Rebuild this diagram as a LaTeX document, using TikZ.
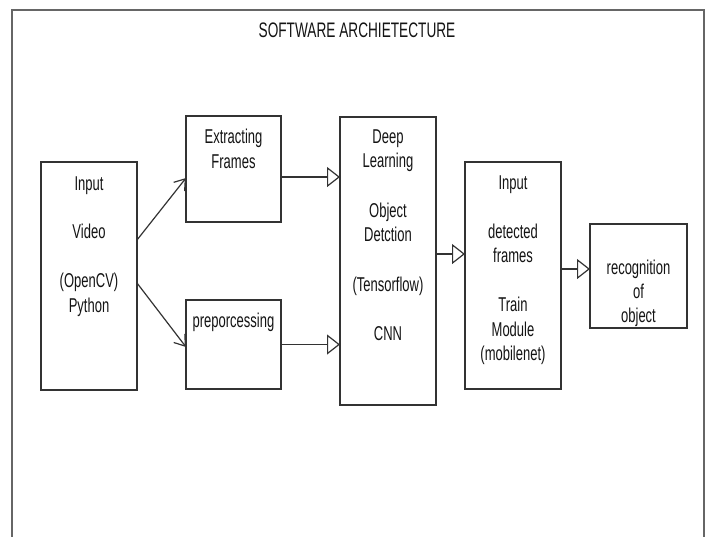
\documentclass[tikz,border=0pt]{standalone}
\usepackage{fontspec}
\setmainfont[FakeStretch=0.65]{Liberation Sans}
\usetikzlibrary{arrows.meta}
\begin{document}
\begin{tikzpicture}[x=1pt,y=-1pt,
  box/.style={draw=black!80,line width=1.2pt,rectangle,inner sep=0pt,outer sep=0pt},
  txt/.style={anchor=base,inner sep=0pt,text=black!92,font=\fontsize{20}{24}\selectfont},
  frame/.style={draw=black!60,line width=2pt},
  linearrow/.style={draw=black!80,line width=1.2pt,-{Straight Barb[length=10pt,width=14pt,line width=1.2pt]}},
  triarrow/.style={draw=black!80,line width=1.2pt,-{Triangle[open,length=13pt,width=20pt,line width=1.2pt,fill=white]}}
]
\useasboundingbox (0,0) rectangle (710,536);
\fill[white] (0,0) rectangle (710,536);
\draw[frame] (12,545) -- (12,10) -- (704,10) -- (704,545);
\node[txt,font=\fontsize{21}{24}\selectfont] (title) at (357,37.5) {SOFTWARE ARCHIETECTURE};

% boxes
\node[box,minimum width=96pt,minimum height=228pt] (inp) at (89,276) {};
\node[box,minimum width=95pt,minimum height=106pt] (ext) at (233.5,169) {};
\node[box,minimum width=95pt,minimum height=89pt] (pre) at (233.5,344.5) {};
\node[box,minimum width=96pt,minimum height=288pt] (deep) at (388,261) {};
\node[box,minimum width=96pt,minimum height=227pt] (det) at (513,275.5) {};
\node[box,minimum width=97pt,minimum height=104pt] (rec) at (638.5,276) {};

% texts
\node[txt] (inp1) at (89,190) {Input};
\node[txt] (inp2) at (89,238) {Video};
\node[txt] (inp3) at (89,287) {(OpenCV)};
\node[txt] (inp4) at (89,312) {Python};

\node[txt] (ext1) at (233.5,143) {Extracting};
\node[txt] (ext2) at (233.5,168) {Frames};

\node[txt] (pre1) at (233.5,327) {preporcessing};

\node[txt] (deep1) at (388,143) {Deep};
\node[txt] (deep2) at (388,167) {Learning};
\node[txt] (deep3) at (388,217) {Object};
\node[txt] (deep4) at (388,241) {Detction};
\node[txt] (deep5) at (388,291) {(Tensorflow)};
\node[txt] (deep6) at (388,340) {CNN};

\node[txt] (det1) at (513,189) {Input};
\node[txt] (det2) at (513,238) {detected};
\node[txt] (det3) at (513,262) {frames};
\node[txt] (det4) at (513,311) {Train};
\node[txt] (det5) at (513,336) {Module};
\node[txt] (det6) at (513,360) {(mobilenet)};

\node[txt] (rec1) at (638.5,274) {recognition};
\node[txt] (rec2) at (638.5,298) {of};
\node[txt] (rec3) at (638.5,322) {object};

% connectors
\draw[linearrow] ([yshift=36pt]inp.east) -- ([yshift=-9pt]ext.west);
\draw[linearrow] ([yshift=-7pt]inp.east) -- ([yshift=-2.5pt]pre.west);
\draw[triarrow] ([yshift=-8pt]ext.east) -- ([yshift=-8pt]ext.east -| deep.west);
\draw[triarrow] (pre.east) -- (pre.east -| deep.west);
\draw[triarrow] ([yshift=7pt]deep.east) -- ([yshift=7pt]deep.east -| det.west);
\draw[triarrow] ([yshift=6.5pt]det.east) -- ([yshift=6.5pt]det.east -| rec.west);
\end{tikzpicture}
\end{document}
